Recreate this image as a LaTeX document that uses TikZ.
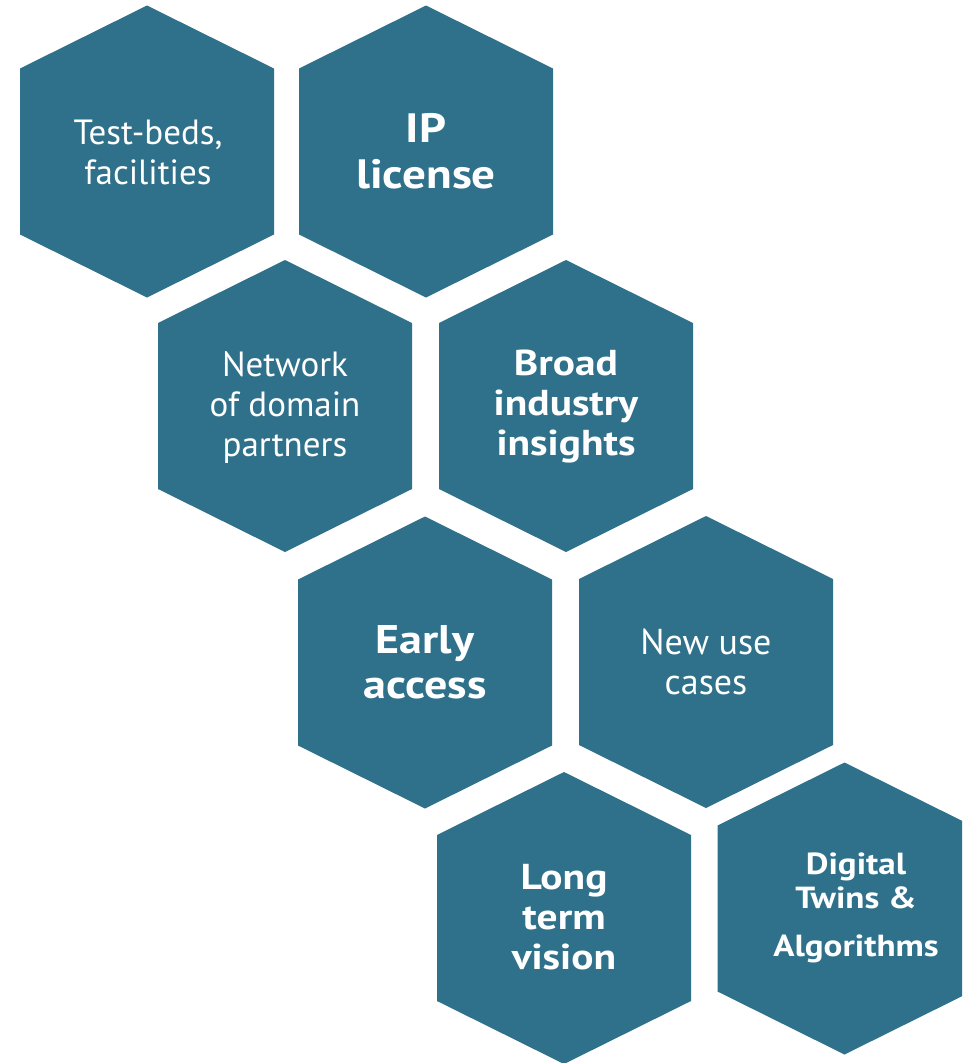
\documentclass[tikz,border=0pt]{standalone}
\usepackage{fontspec}
\setmainfont{PT Sans}[BoldFeatures={FakeStretch=1.15}]
\definecolor{hexteal}{RGB}{47,113,138}
\tikzset{
  hexa/.pic={\fill[hexteal] (0,-146) -- (127,-83) -- (127,83) -- (0,146) -- (-127,83) -- (-127,-83) -- cycle;},
  lbl/.style={text=white, align=center, inner sep=0pt},
  reg/.style={lbl, font=\fontsize{35}{40}\selectfont},
  bld/.style={lbl, font=\fontsize{36}{40}\selectfont\bfseries},
}
\begin{document}
\begin{tikzpicture}[x=1pt,y=-1pt]
\useasboundingbox (0,0) rectangle (962,1063);
\clip (0,0) rectangle (962,1063);
\pic at (147,151.5) {hexa};
\pic at (426,151.5) {hexa};
\pic at (285,406) {hexa};
\pic at (566,406) {hexa};
\pic at (425,662.5) {hexa};
\pic at (706,662) {hexa};
\pic at (564,918) {hexa};
\pic at (844.5,908.5) {hexa};
\node[reg] (testbeds) at (148,152) {Test-beds,\\facilities};
\node[bld, font=\fontsize{41}{46}\selectfont\bfseries] (ip) at (426,151) {IP\\license};
\node[reg] (network) at (285,408) {Network\\of domain\\partners};
\node[bld] (broad) at (566,407) {Broad\\industry\\insights};
\node[bld, font=\fontsize{40}{45}\selectfont\bfseries] (early) at (425,662) {Early\\access};
\node[reg, font=\fontsize{36}{40}\selectfont] (newuse) at (706,662) {New use\\cases};
\node[bld] (longterm) at (564,917) {Long\\term\\vision};
\node[bld, font=\fontsize{30.5}{34}\selectfont\bfseries] (digital) at (856,908) {Digital\\Twins \&\\[14pt]Algorithms};
\end{tikzpicture}
\end{document}
